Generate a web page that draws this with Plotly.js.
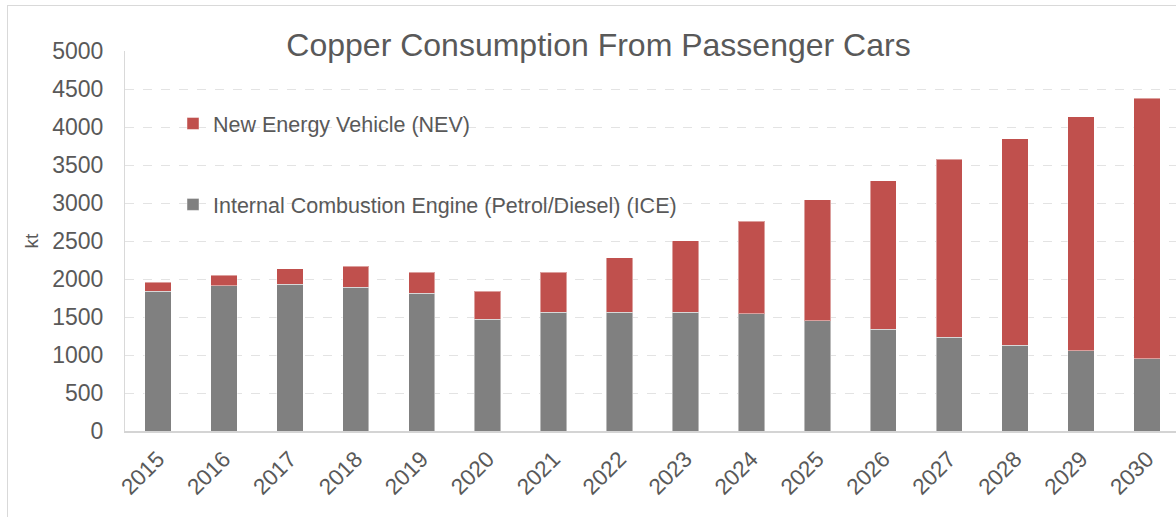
<!DOCTYPE html>
<html>
<head>
<meta charset="utf-8">
<script src="https://cdn.plot.ly/plotly-3.0.1.min.js"></script>
<style>
  html, body { margin: 0; padding: 0; overflow: hidden; background: #fff; width: 1176px; height: 517px; }
  #chart { position: absolute; left: 0; top: 0; width: 1182px; height: 517px; }
  #frame { position: absolute; left: 7px; top: 5px; width: 1200px; height: 600px; border: 1px solid #d9d9d9; pointer-events: none; }
</style>
</head>
<body>
<div id="chart"></div>
<div id="frame"></div>
<script>
const years = ['2015','2016','2017','2018','2019','2020','2021','2022','2023','2024','2025','2026','2027','2028','2029','2030'];
const iceValues = [1838, 1908, 1930, 1891, 1812, 1470, 1562, 1562, 1562, 1544, 1448, 1338, 1233, 1127, 1053, 948];
const nevValues = [119, 141, 202, 276, 280, 368, 526, 719, 943, 1215, 1592, 1956, 2342, 2716, 3084, 3430];
const iceName = 'Internal Combustion Engine (Petrol/Diesel) (ICE)';
const nevName = 'New Energy Vehicle (NEV)';
const titleText = 'Copper Consumption From Passenger Cars';
const yTitle = 'kt';

const FONT = '"Liberation Sans", Arial, sans-serif';
const TXT = '#595959';

const traces = [
  { type: 'bar', name: iceName, x: years, y: iceValues, legendgroup: 'ice', legendrank: 2,
    marker: { color: '#808080', line: { color: 'rgba(255,255,255,0.45)', width: 1 } } },
  { type: 'bar', name: nevName, x: years, y: nevValues, legendgroup: 'nev', legendrank: 1,
    marker: { color: '#C0504D', line: { color: 'rgba(255,255,255,0.45)', width: 1 } } }
];

const layout = {
  width: 1182, height: 517,
  margin: { l: 125, r: 2, t: 51, b: 86 },
  paper_bgcolor: 'rgba(0,0,0,0)', plot_bgcolor: 'rgba(0,0,0,0)',
  font: { family: FONT, color: TXT, size: 22 },
  barmode: 'stack', bargap: 0.6,
  showlegend: true,
  title: { text: titleText, font: { family: FONT, size: 32, color: TXT },
           xref: 'container', x: 598.5 / 1182, xanchor: 'center',
           yref: 'container', y: 1 - 45 / 517, yanchor: 'middle' },
  legend: { x: 48 / 1055, xanchor: 'left', y: 1 - 52 / 380, yanchor: 'top',
            traceorder: 'grouped', tracegroupgap: 50,
            bgcolor: 'rgba(0,0,0,0)', font: { family: FONT, size: 21.5, color: TXT } },
  xaxis: { type: 'category', tickangle: -45, showgrid: false,
           showline: true, linecolor: '#d4d4d4', linewidth: 2,
           ticks: '', ticklabelstandoff: 4,
           tickfont: { family: FONT, size: 22.5, color: TXT }, fixedrange: true },
  yaxis: { range: [0, 5000], dtick: 500, tick0: 0,
           showgrid: true, gridcolor: '#e3e3e3', griddash: 'dash', gridwidth: 1,
           showline: true, linecolor: '#d9d9d9', linewidth: 1,
           zeroline: false, ticks: '', ticklabelstandoff: 16,
           tickfont: { family: FONT, size: 23, color: TXT },
           title: { text: yTitle, font: { family: FONT, size: 19, color: TXT }, standoff: 8 },
           fixedrange: true }
};

Plotly.newPlot('chart', traces, layout, { staticPlot: true, displayModeBar: false });
</script>
</body>
</html>
